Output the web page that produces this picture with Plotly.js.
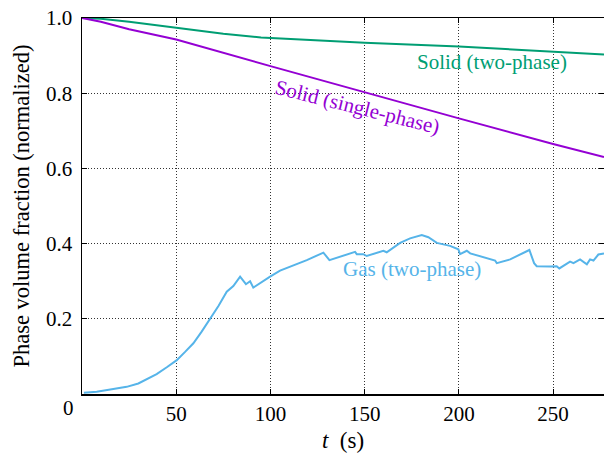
<!DOCTYPE html>
<html><head><meta charset="utf-8">
<script src="https://cdn.plot.ly/plotly-3.0.1.min.js"></script>
<style>html,body{margin:0;padding:0;background:#fff}#chart{width:604px;height:453px}</style>
</head><body><div id="chart"></div>
<script>
const solidTwoT = [0, 10, 25, 50, 75, 95, 125, 150, 200, 250, 277];
const solidTwoV = [1.0, 0.998, 0.99, 0.974, 0.958, 0.948, 0.940, 0.934, 0.924, 0.911, 0.903];
const solidOneT = [0, 10, 25, 50, 100, 150, 200, 250, 277];
const solidOneV = [1.0, 0.99, 0.97, 0.943, 0.872, 0.802, 0.733, 0.665, 0.630];
const gasT = [1, 7.8, 16.6, 23.7, 29.9, 35.3, 39.6, 45.0, 50.3, 54.7, 59.1, 63.5, 67.9, 72.4, 76.8, 80.3, 83.9, 87.0, 89.2, 90.9, 99.8, 105.1, 119.3, 128.1, 131.3, 144.9, 145.8, 149.3, 151.1, 159.9, 161.7, 168.8, 174.1, 180.3, 183.8, 188.3, 195.3, 199.7, 200.6, 204.2, 206.0, 213.0, 219.2, 220.1, 227.2, 237.4, 239.9, 241.3, 244.9, 248.4, 251.9, 253.3, 259.0, 260.8, 264.3, 267.9, 269.6, 271.4, 274.0, 277];
const gasV = [0.003, 0.006, 0.013, 0.019, 0.028, 0.042, 0.053, 0.071, 0.090, 0.112, 0.135, 0.166, 0.199, 0.234, 0.272, 0.287, 0.312, 0.292, 0.300, 0.283, 0.312, 0.328, 0.356, 0.376, 0.356, 0.378, 0.372, 0.372, 0.367, 0.381, 0.377, 0.402, 0.414, 0.423, 0.417, 0.402, 0.394, 0.385, 0.372, 0.381, 0.374, 0.364, 0.355, 0.348, 0.358, 0.383, 0.348, 0.340, 0.339, 0.339, 0.340, 0.334, 0.352, 0.348, 0.358, 0.345, 0.358, 0.355, 0.371, 0.374];
const xTicks = [50, 100, 150, 200, 250];
const yTicks = [0.2, 0.4, 0.6, 0.8, 1.0];
const yTickText = ['0.2', '0.4', '0.6', '0.8', '1.0'];
const labels = ['Solid (two-phase)', 'Solid (single-phase)', 'Gas (two-phase)'];
const colors = ['#009E73', '#9400D3', '#56B4E9'];

const F = 'Liberation Serif, Times New Roman, serif';
const traces = [
  {x: solidTwoT, y: solidTwoV, mode: 'lines', line: {color: colors[0], width: 2}},
  {x: solidOneT, y: solidOneV, mode: 'lines', line: {color: colors[1], width: 2}},
  {x: gasT, y: gasV, mode: 'lines', line: {color: colors[2], width: 2}}
];
const axisCommon = {
  showline: true, linecolor: '#000', linewidth: 1.5, mirror: 'ticks',
  ticks: 'inside', ticklen: 5, tickcolor: '#000',
  showgrid: true, gridcolor: '#333', griddash: '1px,2px', gridwidth: 1,
  zeroline: false, tickfont: {family: F, size: 21, color: '#000'}
};
const layout = {
  width: 604, height: 453,
  margin: {l: 82, r: 0, t: 18, b: 59},
  paper_bgcolor: '#fff', plot_bgcolor: '#fff',
  showlegend: false,
  font: {family: F, color: '#000'},
  xaxis: Object.assign({}, axisCommon, {range: [0, 277], tickvals: xTicks, ticktext: xTicks.map(String),
    title: {text: '<i>t</i>  (s)', font: {family: F, size: 23}, standoff: 10}}),
  yaxis: Object.assign({}, axisCommon, {range: [0, 1], tickvals: yTicks, ticktext: yTickText, ticklabelstandoff: 4,
    title: {text: 'Phase volume fraction (normalized)', font: {family: F, size: 22.5}, standoff: 10}}),
  annotations: [
    {xref: 'paper', yref: 'paper', x: -14/522, y: -14/376, text: '0', showarrow: false,
     xanchor: 'center', yanchor: 'middle', font: {family: F, size: 21, color: '#000'}},
    {x: 217.6, y: 0.883, text: labels[0], showarrow: false, font: {family: F, size: 21, color: colors[0]}},
    {x: 146, y: 0.762, text: labels[1], showarrow: false, textangle: 14, font: {family: F, size: 21, color: colors[1]}},
    {x: 175.2, y: 0.332, text: labels[2], showarrow: false, font: {family: F, size: 21, color: colors[2]}}
  ]
};
Plotly.newPlot('chart', traces, layout, {staticPlot: true, displayModeBar: false});
</script>
</body></html>
